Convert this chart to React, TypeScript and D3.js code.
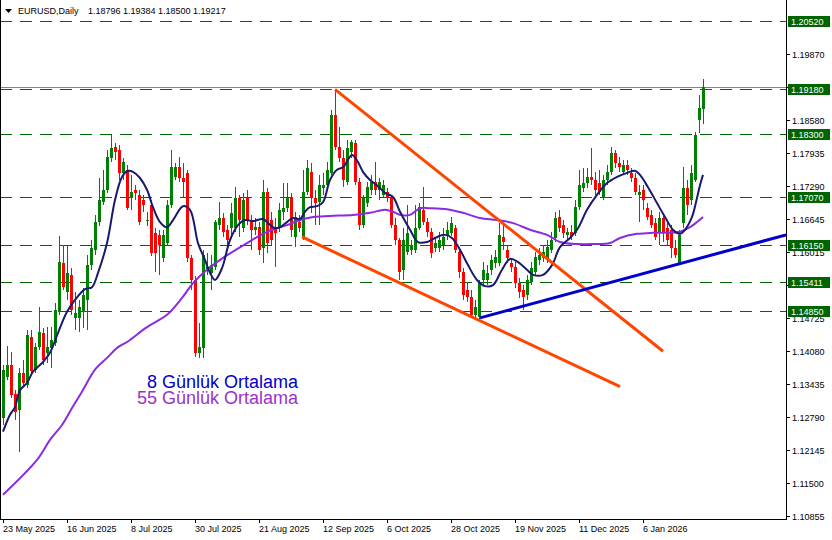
import React from "react";
import * as d3 from "d3";

// ---------- DATA ----------
const symbolTitle = "EURUSD,Daily";
const lastQuote = ["1.18796", "1.19384", "1.18500", "1.19217"];

// [open, high, low, close] per daily bar
const ohlc: [number, number, number, number][] = [
  [1.1277,1.1380,1.1263,1.1371],[1.1357,1.1417,1.1351,1.1380],[1.1380,1.1406,1.1316,1.1322],[1.1324,1.1331,1.1273,1.1289],
  [1.1293,1.1374,1.1211,1.1365],[1.1365,1.1390,1.1337,1.1345],[1.1341,1.1449,1.1335,1.1439],[1.1435,1.1449,1.1361,1.1369],
  [1.1371,1.1423,1.1365,1.1415],[1.1415,1.1493,1.1410,1.1445],[1.1443,1.1452,1.1380,1.1390],[1.1404,1.1454,1.1384,1.1415],
  [1.1413,1.1454,1.1374,1.1429],[1.1423,1.1501,1.1417,1.1488],[1.1484,1.1632,1.1478,1.1581],[1.1579,1.1614,1.1527,1.1532],
  [1.1523,1.1614,1.1507,1.1560],[1.1556,1.1569,1.1478,1.1488],[1.1472,1.1523,1.1449,1.1482],[1.1472,1.1507,1.1445,1.1493],
  [1.1484,1.1530,1.1452,1.1517],[1.1507,1.1595,1.1449,1.1575],[1.1575,1.1624,1.1566,1.1608],[1.1605,1.1673,1.1595,1.1659],
  [1.1659,1.1745,1.1651,1.1702],[1.1698,1.1761,1.1692,1.1722],[1.1722,1.1800,1.1716,1.1786],[1.1784,1.1829,1.1776,1.1803],
  [1.1805,1.1813,1.1780,1.1796],[1.1800,1.1809,1.1741,1.1755],[1.1755,1.1784,1.1741,1.1776],[1.1761,1.1770,1.1683,1.1686],
  [1.1706,1.1751,1.1683,1.1718],[1.1722,1.1731,1.1702,1.1716],[1.1712,1.1722,1.1653,1.1659],[1.1702,1.1712,1.1679,1.1692],
  [1.1661,1.1679,1.1651,1.1663],[1.1692,1.1702,1.1593,1.1599],[1.1638,1.1647,1.1562,1.1599],[1.1634,1.1644,1.1556,1.1614],
  [1.1589,1.1644,1.1581,1.1634],[1.1618,1.1702,1.1612,1.1692],[1.1692,1.1800,1.1686,1.1766],[1.1747,1.1774,1.1741,1.1766],
  [1.1766,1.1786,1.1737,1.1745],[1.1745,1.1774,1.1708,1.1737],[1.1755,1.1761,1.1581,1.1589],[1.1589,1.1595,1.1527,1.1546],
  [1.1546,1.1554,1.1396,1.1404],[1.1404,1.1462,1.1394,1.1415],[1.1413,1.1605,1.1394,1.1595],[1.1566,1.1599,1.1556,1.1571],
  [1.1560,1.1595,1.1527,1.1575],[1.1571,1.1663,1.1566,1.1659],[1.1653,1.1698,1.1644,1.1667],[1.1667,1.1677,1.1630,1.1640],
  [1.1644,1.1653,1.1614,1.1624],[1.1647,1.1696,1.1628,1.1677],[1.1647,1.1727,1.1640,1.1706],[1.1706,1.1712,1.1630,1.1663],
  [1.1647,1.1716,1.1640,1.1702],[1.1706,1.1722,1.1653,1.1663],[1.1659,1.1673,1.1605,1.1644],[1.1644,1.1667,1.1634,1.1649],
  [1.1649,1.1659,1.1595,1.1605],[1.1608,1.1741,1.1579,1.1718],[1.1718,1.1725,1.1599,1.1618],[1.1663,1.1679,1.1614,1.1624],
  [1.1649,1.1667,1.1571,1.1638],[1.1647,1.1696,1.1640,1.1683],[1.1679,1.1735,1.1663,1.1686],[1.1686,1.1735,1.1679,1.1708],
  [1.1708,1.1716,1.1630,1.1644],[1.1630,1.1679,1.1610,1.1669],[1.1659,1.1673,1.1640,1.1647],[1.1630,1.1761,1.1624,1.1718],
  [1.1718,1.1780,1.1712,1.1764],[1.1757,1.1774,1.1677,1.1706],[1.1706,1.1722,1.1653,1.1696],[1.1698,1.1751,1.1653,1.1731],
  [1.1725,1.1755,1.1712,1.1731],[1.1731,1.1776,1.1725,1.1761],[1.1755,1.1878,1.1751,1.1868],[1.1868,1.1918,1.1800,1.1805],
  [1.1805,1.1844,1.1776,1.1784],[1.1784,1.1800,1.1727,1.1741],[1.1737,1.1819,1.1731,1.1803],[1.1796,1.1819,1.1784,1.1815],
  [1.1813,1.1819,1.1731,1.1737],[1.1737,1.1745,1.1644,1.1653],[1.1653,1.1712,1.1647,1.1706],[1.1696,1.1737,1.1688,1.1727],
  [1.1722,1.1751,1.1712,1.1737],[1.1737,1.1776,1.1712,1.1722],[1.1722,1.1745,1.1702,1.1737],[1.1712,1.1741,1.1706,1.1731],
  [1.1718,1.1725,1.1698,1.1706],[1.1706,1.1712,1.1647,1.1653],[1.1653,1.1667,1.1614,1.1624],[1.1624,1.1628,1.1546,1.1562],
  [1.1566,1.1647,1.1546,1.1624],[1.1601,1.1692,1.1595,1.1638],[1.1605,1.1624,1.1595,1.1614],[1.1605,1.1692,1.1599,1.1647],
  [1.1647,1.1696,1.1644,1.1688],[1.1683,1.1727,1.1653,1.1659],[1.1659,1.1667,1.1630,1.1640],[1.1640,1.1647,1.1589,1.1599],
  [1.1608,1.1628,1.1601,1.1618],[1.1608,1.1640,1.1601,1.1624],[1.1614,1.1647,1.1605,1.1630],[1.1634,1.1659,1.1624,1.1644],
  [1.1638,1.1669,1.1632,1.1657],[1.1647,1.1653,1.1599,1.1605],[1.1601,1.1608,1.1550,1.1562],[1.1562,1.1569,1.1507,1.1517],
  [1.1527,1.1542,1.1503,1.1513],[1.1513,1.1527,1.1472,1.1478],[1.1478,1.1507,1.1468,1.1493],[1.1474,1.1546,1.1468,1.1540],
  [1.1546,1.1581,1.1536,1.1566],[1.1546,1.1575,1.1536,1.1560],[1.1566,1.1595,1.1556,1.1585],[1.1579,1.1605,1.1569,1.1591],
  [1.1579,1.1657,1.1573,1.1634],[1.1630,1.1657,1.1605,1.1620],[1.1605,1.1614,1.1579,1.1589],[1.1579,1.1589,1.1562,1.1571],
  [1.1571,1.1581,1.1530,1.1540],[1.1540,1.1550,1.1511,1.1523],[1.1527,1.1536,1.1488,1.1513],[1.1517,1.1556,1.1507,1.1546],
  [1.1542,1.1581,1.1536,1.1569],[1.1562,1.1601,1.1556,1.1591],[1.1585,1.1608,1.1575,1.1595],[1.1589,1.1614,1.1581,1.1601],
  [1.1585,1.1624,1.1579,1.1610],[1.1605,1.1640,1.1599,1.1624],[1.1628,1.1679,1.1620,1.1667],[1.1669,1.1683,1.1640,1.1647],
  [1.1653,1.1663,1.1628,1.1638],[1.1634,1.1647,1.1624,1.1640],[1.1640,1.1653,1.1624,1.1632],[1.1638,1.1702,1.1632,1.1688],
  [1.1688,1.1761,1.1683,1.1731],[1.1725,1.1764,1.1718,1.1735],[1.1735,1.1764,1.1725,1.1747],[1.1747,1.1803,1.1731,1.1741],
  [1.1741,1.1757,1.1712,1.1722],[1.1735,1.1761,1.1712,1.1718],[1.1708,1.1751,1.1702,1.1741],[1.1741,1.1770,1.1731,1.1757],
  [1.1757,1.1805,1.1751,1.1794],[1.1794,1.1800,1.1764,1.1774],[1.1774,1.1786,1.1757,1.1766],[1.1757,1.1780,1.1751,1.1770],
  [1.1770,1.1780,1.1751,1.1761],[1.1755,1.1764,1.1737,1.1745],[1.1745,1.1755,1.1712,1.1718],[1.1712,1.1731,1.1659,1.1718],
  [1.1722,1.1731,1.1683,1.1702],[1.1686,1.1696,1.1663,1.1669],[1.1673,1.1683,1.1647,1.1653],[1.1657,1.1667,1.1624,1.1630],
  [1.1640,1.1679,1.1614,1.1667],[1.1667,1.1673,1.1620,1.1640],[1.1647,1.1659,1.1614,1.1624],[1.1644,1.1653,1.1589,1.1608],
  [1.1608,1.1624,1.1589,1.1595],[1.1579,1.1644,1.1575,1.1634],[1.1657,1.1766,1.1647,1.1725],[1.1725,1.1741,1.1673,1.1692],
  [1.1702,1.1770,1.1692,1.1755],[1.1741,1.1835,1.1737,1.1829],[1.1858,1.1907,1.1833,1.1881],[1.18796,1.19384,1.18500,1.19217],
];

// 8-day moving average: [bar index, price]
const ma8: [number, number][] = [
  [0,1.1250],[1.75,1.1283],[3,1.1298],[4.25,1.1331],[6,1.1345],[7.5,1.1367],[10,1.1386],[11.75,1.1404],[13.75,1.1443],
  [16,1.1484],[18,1.1507],[20.5,1.1528],[22.25,1.1532],[23.75,1.1560],[26,1.1618],[28,1.1702],[29.75,1.1747],[31.25,1.1759],
  [32.5,1.1757],[34.25,1.1745],[36,1.1722],[37.5,1.1688],[39.25,1.1659],[41,1.1649],[42.5,1.1663],[45,1.1690],[46.75,1.1683],
  [48.75,1.1618],[50.5,1.1585],[51.75,1.1560],[53,1.1546],[54.75,1.1569],[56.75,1.1624],[58.75,1.1653],[60.5,1.1663],
  [62.5,1.1661],[65,1.1665],[66.25,1.1657],[68,1.1647],[69.25,1.1649],[71,1.1659],[72.5,1.1667],[74.25,1.1665],[75.5,1.1679],
  [76.75,1.1688],[78.5,1.1690],[80,1.1698],[81.75,1.1741],[83.5,1.1761],[85,1.1766],[87.25,1.1790],[88.75,1.1776],[90,1.1757],
  [91.75,1.1741],[93.75,1.1729],[95.5,1.1716],[97.5,1.1708],[99.25,1.1679],[101.75,1.1644],[103.75,1.1620],[106,1.1620],
  [108,1.1628],[110.5,1.1634],[112.25,1.1628],[114.25,1.1605],[116.25,1.1575],[118.5,1.1546],[120.5,1.1534],[122.5,1.1536],
  [124.75,1.1566],[126.75,1.1587],[128.75,1.1581],[131,1.1566],[132.5,1.1556],[135,1.1556],[137.25,1.1575],[139.25,1.1610],
  [141.75,1.1628],[143.75,1.1647],[146,1.1683],[148.5,1.1712],[151,1.1735],[153.5,1.1747],[156,1.1755],[158,1.1759],
  [159.25,1.1751],[161.25,1.1727],[163.5,1.1696],[165.5,1.1669],[167.5,1.1644],[169.25,1.1636],[170.5,1.1644],[172.25,1.1669],
  [173.5,1.1706],[174.25,1.1731],[175,1.1751],
];

// 55-day moving average: [bar index, price]
const ma55: [number, number][] = [
  [0,1.1127],[8.5,1.1195],[11.75,1.1234],[14.75,1.1263],[17.25,1.1296],[19.75,1.1328],[23,1.1371],[26,1.1394],[28.75,1.1415],
  [31,1.1425],[36,1.1454],[41,1.1478],[44.75,1.1511],[47.5,1.1540],[51,1.1566],[55,1.1589],[61,1.1618],[66,1.1640],[71,1.1653],
  [74.25,1.1663],[77.5,1.1669],[81.75,1.1671],[87.5,1.1673],[91.75,1.1677],[95.5,1.1683],[97.5,1.1679],[99.25,1.1673],
  [101.75,1.1673],[104.25,1.1686],[106.75,1.1686],[111,1.1684],[115,1.1677],[119.25,1.1667],[123.5,1.1663],[127.5,1.1657],
  [131.75,1.1644],[136,1.1634],[139.25,1.1620],[143.5,1.1616],[147.5,1.1616],[151.75,1.1618],[154.25,1.1628],[158.5,1.1636],
  [162.5,1.1638],[166,1.1638],[169.25,1.1640],[171.75,1.1649],[173.5,1.1659],[175,1.1669],
];

// trend lines: [bar index, price] endpoints
const wedgeUpper: [number, number][] = [[83, 1.1918], [165, 1.1407]];
const wedgeLower: [number, number][] = [[74.75, 1.1630], [154.25, 1.1338]];
const supportLine: [number, number][] = [[119.25, 1.1472], [195.75, 1.1634]];

// horizontal levels
const levels = [1.2052, 1.1918, 1.183, 1.1707, 1.1615, 1.15411, 1.1485];
const bidPrice = 1.19217;

// price axis ticks (labels hidden under level boxes are left as marks only)
const priceTicks = [1.10855, 1.115, 1.12145, 1.1279, 1.13435, 1.1408, 1.14725, 1.1537, 1.16015, 1.16645,
  1.1729, 1.17935, 1.1858, 1.19225, 1.1987];
const hiddenTickLabels = [1.1537, 1.19225];

// time axis labels (every 16 bars)
const dateTickBars = [0, 16, 32, 48, 64, 80, 96, 112, 128, 144, 160];
const dateLabels = ["23 May 2025", "16 Jun 2025", "8 Jul 2025", "30 Jul 2025", "21 Aug 2025", "12 Sep 2025",
  "6 Oct 2025", "28 Oct 2025", "19 Nov 2025", "11 Dec 2025", "6 Jan 2026"];

const legendLabels = ["8 Günlük Ortalama", "55 Günlük Ortalama"];

// ---------- CHART ----------
const W = 832, H = 540;
const PLOT_R = 786, PLOT_B = 519;
const FONT = "'Liberation Sans', Arial, sans-serif";

export default function App() {
  const x = d3.scaleLinear().domain([0, 175]).range([3, 703]);
  const y = d3.scaleLinear().domain([1.10796, 1.20923]).range([PLOT_B, 0]);

  const line = d3.line<[number, number]>().x(d => x(d[0])).y(d => y(d[1]));
  const smooth = d3.line<[number, number]>().x(d => x(d[0])).y(d => y(d[1])).curve(d3.curveCatmullRom.alpha(0.5));

  return (
    <svg width={W} height={H} style={{ position: "absolute", left: 0, top: 0, background: "#fff" }}
      fontFamily={FONT}>
      <defs>
        <clipPath id="plot"><rect x={0} y={0} width={PLOT_R} height={PLOT_B} /></clipPath>
      </defs>
      <rect x={0} y={0} width={W} height={H} fill="#fff" />

      {/* levels */}
      {levels.map((lv, i) => (
        <line key={"lv" + i} x1={0} x2={PLOT_R} y1={Math.round(y(lv)) + 0.5} y2={Math.round(y(lv)) + 0.5}
          stroke="#006400" strokeWidth={1} strokeDasharray="12,8" />
      ))}
      <line x1={0} x2={PLOT_R} y1={Math.round(y(bidPrice)) + 0.5} y2={Math.round(y(bidPrice)) + 0.5}
        stroke="#778899" strokeWidth={1} />

      {/* candles */}
      <g clipPath="url(#plot)">
        {ohlc.map((d, i) => {
          const [o, h, l, c] = d;
          const cx = Math.round(x(i));
          const col = c >= o ? "#008000" : "#ff0000";
          const top = Math.round(y(Math.max(o, c)));
          const bot = Math.round(y(Math.min(o, c)));
          return (
            <g key={"c" + i}>
              <line x1={cx + 0.5} x2={cx + 0.5} y1={Math.round(y(h))} y2={Math.round(y(l))} stroke={col} strokeWidth={1} />
              <rect x={cx - 1} y={top} width={3} height={Math.max(1, bot - top)} fill={col} />
            </g>
          );
        })}

        <path d={smooth(ma55) || ""} fill="none" stroke="#8a2be2" strokeWidth={2} />
        <path d={smooth(ma8) || ""} fill="none" stroke="#191970" strokeWidth={2} />

        <path d={line(wedgeUpper) || ""} fill="none" stroke="#ff4500" strokeWidth={3} />
        <path d={line(wedgeLower) || ""} fill="none" stroke="#ff4500" strokeWidth={3} />
        <path d={line(supportLine) || ""} fill="none" stroke="#0000cd" strokeWidth={3} />
      </g>

      {/* frame */}
      <line x1={0.5} x2={0.5} y1={0} y2={PLOT_B} stroke="#000" />
      <line x1={PLOT_R + 0.5} x2={PLOT_R + 0.5} y1={0} y2={PLOT_B + 1} stroke="#000" />
      <line x1={0} x2={PLOT_R + 1} y1={PLOT_B + 0.5} y2={PLOT_B + 0.5} stroke="#000" />

      {/* price axis */}
      {priceTicks.map((t, i) => {
        const ty = Math.round(y(t)) + 0.5;
        return (
          <g key={"pt" + i}>
            <line x1={PLOT_R} x2={PLOT_R + 4} y1={ty} y2={ty} stroke="#000" />
            {hiddenTickLabels.includes(t) ? null : (
              <text x={792} y={ty + 3.5} fontSize={9} fill="#000">{t.toFixed(5)}</text>
            )}
          </g>
        );
      })}
      {levels.map((lv, i) => {
        const ly = Math.round(y(lv)) + 0.5;
        return (
          <g key={"lb" + i}>
            <rect x={788} y={ly - 5.5} width={42} height={11} fill="#006400" />
            <text x={791} y={ly + 3.5} fontSize={9} fill="#fff">{lv.toFixed(5)}</text>
          </g>
        );
      })}

      {/* time axis */}
      {dateTickBars.map((b, i) => {
        const tx = Math.round(x(b)) + 0.5;
        return (
          <g key={"dt" + i}>
            <line x1={tx} x2={tx} y1={PLOT_B} y2={PLOT_B + 4} stroke="#000" />
            <text x={tx - 0.5} y={532} fontSize={9} fill="#000">{dateLabels[i]}</text>
          </g>
        );
      })}

      {/* header */}
      <path d="M5,9 L12,9 L8.5,13 Z" fill="#000" />
      <text x={18} y={14} fontSize={9} fill="#000">{symbolTitle}</text>
      <text x={88} y={14} fontSize={9} fill="#000">{lastQuote.join(" ")}</text>

      {/* legend text */}
      <text x={147} y={388} fontSize={18} fill="#0000cd">{legendLabels[0]}</text>
      <text x={137} y={404} fontSize={18} fill="#9932cc">{legendLabels[1]}</text>
    </svg>
  );
}
